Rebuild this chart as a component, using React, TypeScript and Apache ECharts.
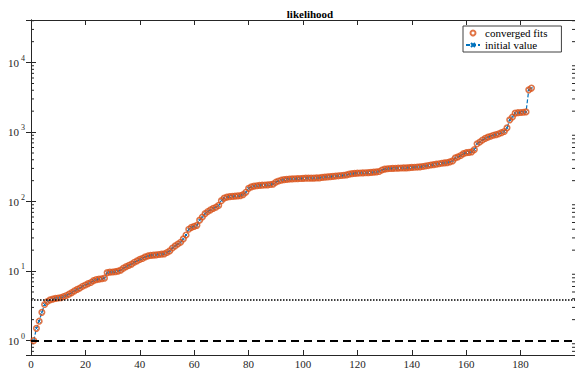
import React, { useEffect, useRef } from "react";
import * as echarts from "echarts";

const titleText = "likelihood";
const seriesNames = ["converged fits", "initial value"];
const xTicks = { min: 0, max: 200, interval: 20 };
const yRange = { min: 0.62, max: 41000 };

// converged fit likelihoods, sorted (run index 1..184)
const convergedFits = [
  1.0, 1.5, 1.9, 2.55, 3.3, 3.65, 3.85, 3.95, 4.05, 4.1,
  4.15, 4.3, 4.45, 4.65, 4.9, 5.2, 5.45, 5.7, 6.05, 6.3,
  6.6, 6.85, 7.3, 7.55, 7.65, 7.75, 7.9, 9.5, 9.65, 9.7,
  9.8, 10.0, 10.3, 11.0, 11.6, 12.1, 12.6, 13.4, 14.0, 14.7,
  15.2, 16.0, 16.5, 16.8, 17.0, 17.1, 17.3, 17.5, 17.7, 18.5,
  19.5, 21.5, 23.0, 24.5, 26.0, 29.0, 33.0, 40.0, 42.5, 44.0,
  45.5, 54, 60, 67, 72, 76, 80, 83, 88, 103,
  112, 116, 118, 119, 120, 121, 122, 126, 136, 155,
  163, 167, 169, 171, 172, 173, 174, 176, 178, 190,
  198, 203, 207, 209, 211, 212, 213, 214, 215, 216,
  217, 217, 218, 218, 219, 219, 223, 225, 227, 229,
  231, 233, 235, 237, 239, 242, 248, 252, 255, 257,
  258, 259, 260, 261, 263, 265, 268, 271, 285, 293,
  297, 299, 301, 302, 303, 304, 305, 306, 308, 310,
  312, 314, 316, 320, 325, 330, 336, 340, 345, 350,
  356, 360, 364, 372, 385, 425, 440, 460, 490, 505,
  510, 520, 560, 680, 720, 770, 810, 845, 870, 900,
  920, 945, 980, 1020, 1150, 1500, 1650, 1870, 1900, 1915,
  1930, 1950, 4050, 4300,
];
// initial values (line drawn underneath, coincident with converged fits)
const initialValues = convergedFits.slice();

const dottedLevel = 3.85;
const dashedLevel = 1.0;

const FONT = "'Liberation Serif', 'Times New Roman', serif";
const AX = "#262626";

export default function App() {
  const ref = useRef<HTMLDivElement>(null);
  useEffect(() => {
    if (!ref.current) return;
    const chart = echarts.init(ref.current, null, { renderer: "svg" });
    const idx = convergedFits.map((_, i) => i + 1);
    const minorVals: number[][] = [];
    for (let k = -1; k <= 4; k++) {
      for (let m = 2; m <= 9; m++) {
        const v = m * Math.pow(10, k);
        if (v > yRange.min && v < yRange.max) minorVals.push([0, v]);
      }
    }
    const supFmt = (v: number) => {
      const e = Math.round(Math.log10(v));
      return `{b|10}{s|${e}}`;
    };
    chart.setOption({
      animation: false,
      backgroundColor: "#ffffff",
      title: {
        text: titleText,
        left: 305,
        textAlign: "center",
        top: 3,
        textStyle: { fontFamily: FONT, fontSize: 11, fontWeight: "bold", color: "#000" },
      },
      legend: {
        data: [
          { name: seriesNames[0], icon: "circle" },
          { name: seriesNames[1] },
        ],
        orient: "vertical",
        left: 463,
        top: 26,
        width: 96,
        itemWidth: 14,
        itemHeight: 5,
        itemGap: 0,
        padding: [1, 14, 1, 2],
        borderColor: "#404040",
        borderWidth: 1,
        backgroundColor: "#fff",
        textStyle: { fontFamily: FONT, fontSize: 11, color: "#000", lineHeight: 12 },
      },
      grid: { left: 31, top: 20, width: 550, height: 335 },
      xAxis: [
        {
          type: "value",
          min: xTicks.min,
          max: xTicks.max,
          interval: xTicks.interval,
          position: "bottom",
          axisLine: { lineStyle: { color: AX, width: 1 } },
          axisTick: { inside: true, length: 5, lineStyle: { color: AX } },
          axisLabel: { fontFamily: FONT, fontSize: 11, color: AX, margin: 3, showMaxLabel: false },
          splitLine: { show: false },
        },
        {
          type: "value",
          min: xTicks.min,
          max: xTicks.max,
          interval: xTicks.interval,
          position: "top",
          axisLine: { lineStyle: { color: AX, width: 1 } },
          axisTick: { inside: true, length: 5, lineStyle: { color: AX } },
          axisLabel: { show: false },
          splitLine: { show: false },
        },
      ],
      yAxis: [
        {
          type: "log",
          logBase: 10,
          min: yRange.min,
          max: yRange.max,
          position: "left",
          axisLine: { show: true, lineStyle: { color: AX, width: 1 } },
          axisTick: { show: true, inside: true, length: 5, lineStyle: { color: AX } },
          axisLabel: {
            formatter: supFmt,
            showMinLabel: false,
            showMaxLabel: false,
            margin: 6,
            rich: {
              b: { fontFamily: FONT, fontSize: 11, color: AX },
              s: { fontFamily: FONT, fontSize: 8, color: AX, padding: [0, 0, 9, 2] },
            },
          },
          splitLine: { show: false },
        },
        {
          type: "log",
          logBase: 10,
          min: yRange.min,
          max: yRange.max,
          position: "right",
          axisLine: { show: true, lineStyle: { color: AX, width: 1 } },
          axisTick: { show: true, inside: true, length: 5, lineStyle: { color: AX } },
          axisLabel: { show: false },
          splitLine: { show: false },
        },
      ],
      series: [
        {
          name: seriesNames[1],
          type: "line",
          data: idx.map((x, i) => [x, initialValues[i]]),
          lineStyle: { color: "#0072BD", width: 1.2, type: [4, 2] },
          symbol: "path://M0,0L10,10M10,0L0,10",
          symbolSize: 3,
          itemStyle: { color: "#0072BD", borderColor: "#0072BD", borderWidth: 1 },
          z: 2,
          markLine: {
            silent: true,
            symbol: "none",
            label: { show: false },
            data: [
              { yAxis: dottedLevel, lineStyle: { color: "#000", width: 1.5, type: [1.5, 1.5] } },
              { yAxis: dashedLevel, lineStyle: { color: "#000", width: 2, type: [8, 5] } },
            ],
          },
        },
        {
          name: seriesNames[0],
          type: "scatter",
          data: idx.map((x, i) => [x, convergedFits[i]]),
          symbol: "circle",
          symbolSize: 5.5,
          itemStyle: { color: "rgba(255,255,255,0)", borderColor: "#D95319", borderWidth: 1.6 },
          z: 3,
        },
        {
          type: "custom",
          silent: true,
          data: minorVals,
          clip: false,
          renderItem: (params: any, api: any) => {
            const v = api.value(1);
            const p = api.coord([xTicks.min, v]);
            const q = api.coord([xTicks.max, v]);
            return {
              type: "group",
              children: [
                { type: "line", shape: { x1: p[0], y1: p[1], x2: p[0] + 3, y2: p[1] }, style: { stroke: AX, lineWidth: 1 } },
                { type: "line", shape: { x1: q[0] - 3, y1: q[1], x2: q[0], y2: q[1] }, style: { stroke: AX, lineWidth: 1 } },
              ],
            };
          },
          z: 1,
        },
      ],
    });
    return () => chart.dispose();
  }, []);
  return (
    <div
      ref={ref}
      style={{ position: "fixed", left: 0, top: 0, width: 575, height: 370 }}
    />
  );
}
